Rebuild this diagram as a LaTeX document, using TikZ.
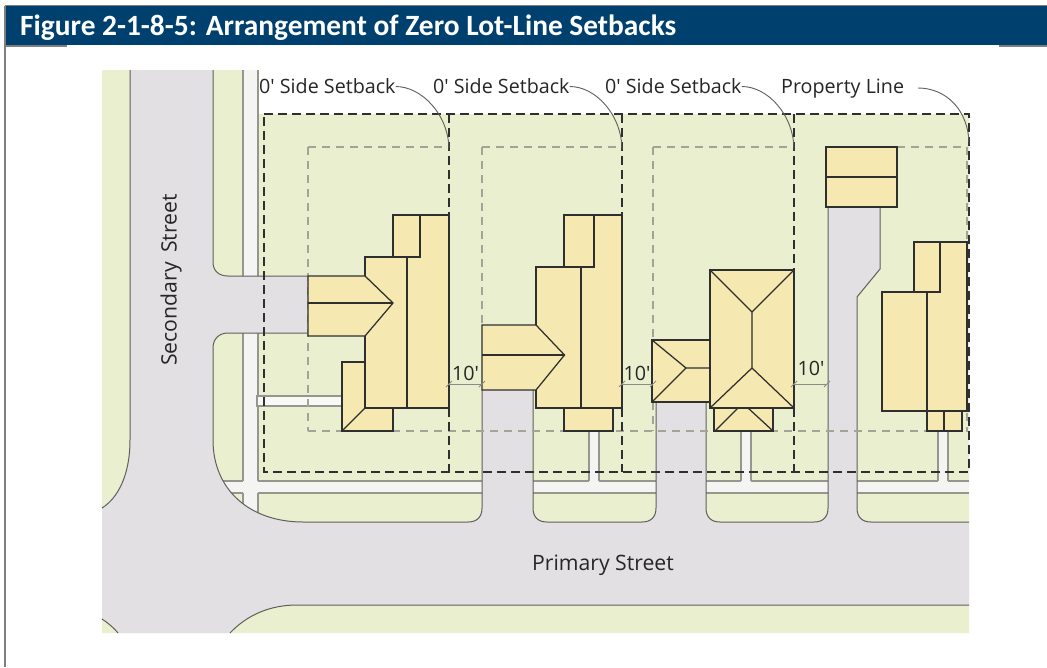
\documentclass[tikz,border=0pt]{standalone}
\usepackage{fontspec}
\usetikzlibrary{calc}
\setmainfont{Open Sans}
\newfontfamily\titlefont[BoldFont=Carlito Bold]{Carlito}
\definecolor{lotgreen}{HTML}{E9EFCF}
\definecolor{roadgrey}{HTML}{E3E0E3}
\definecolor{walkgrey}{HTML}{F4F4F2}
\definecolor{roofyellow}{HTML}{F5E9B1}
\definecolor{headerblue}{HTML}{00406F}
\definecolor{framegrey}{HTML}{7F7F7F}
\definecolor{edgegrey}{HTML}{5F5F5C}
\definecolor{walkedge}{HTML}{96968F}
\definecolor{inkdark}{HTML}{2F2F2F}
\definecolor{setbackgrey}{HTML}{A3A397}
\definecolor{dimgrey}{HTML}{8C8C86}
\tikzset{
  x=1pt,y=-1pt,
  roadedge/.style={draw=edgegrey,line width=1pt},
  walkline/.style={draw=walkedge,line width=1.2pt},
  propline/.style={draw=inkdark,line width=1.5pt,dash pattern=on 9pt off 5pt},
  setback/.style={draw=setbackgrey,line width=1.1pt,dash pattern=on 8pt off 6pt},
  roof/.style={draw=inkdark,line width=1.25pt,fill=roofyellow,line join=miter},
  ridge/.style={draw=inkdark,line width=1.25pt},
  lbl/.style={inner sep=0pt,font=\fontsize{19.7}{21}\selectfont,text=black!85},
  biglbl/.style={inner sep=0pt,font=\fontsize{21.2}{23}\selectfont,text=black!85},
  callout/.style={draw=edgegrey,line width=.9pt},
  dimline/.style={draw=dimgrey,line width=.8pt},
}
\begin{document}
\begin{tikzpicture}
\useasboundingbox (0,0) rectangle (1047,667);
% frame and header
\fill[white] (0,0) rectangle (1047,667);
\draw[framegrey,line width=2pt] (5,5.5) -- (5,667);
\draw[framegrey,line width=1.5pt] (5,46) -- (67,46);
\draw[framegrey,line width=1.5pt] (999,46) -- (1047,46);
\fill[framegrey] (5,5) rectangle (1047,6);
\fill[headerblue] (6,6) rectangle (1047,45);
\node[anchor=west,inner sep=0pt,text=white,font=\titlefont\bfseries\fontsize{29.4}{32}\selectfont] (title) at (20,27.5) {Figure 2-1-8-5: Arrangement of Zero Lot-Line Setbacks};
% ground
\fill[lotgreen] (102,70) -- (258,70) -- (258,114) -- (969,114) -- (969,633) -- (102,633) -- cycle;
% sidewalks
\fill[walkgrey] (243,70) rectangle (258,515);
\fill[walkgrey] (215,481) rectangle (969,493);
\draw[walkline] (243,70) -- (243,481) (243,493) -- (243,510);
\draw[walkline] (258,70) -- (258,481) (258,493) -- (258,520);
\draw[walkline] (215,481) -- (243,481) (258,481) -- (969,481);
\draw[walkline] (215,493) -- (243,493) (258,493) -- (969,493);
% road
\fill[roadgrey] (130,70) -- (213,70) -- (213,262) .. controls (213,271) and (219,276) .. (228,276)
 -- (308,276) -- (308,333) -- (228,333) .. controls (219,333) and (213,339) .. (213,348)
 -- (213,440) .. controls (213,490) and (250,522) .. (303,522)
 -- (468,522) .. controls (477,522) and (482,517) .. (482,508) -- (482,390) -- (533,390)
 -- (533,508) .. controls (533,517) and (538,522) .. (547,522)
 -- (642,522) .. controls (651,522) and (656,517) .. (656,508) -- (656,402) -- (706,402)
 -- (706,508) .. controls (706,517) and (711,522) .. (720,522)
 -- (814,522) .. controls (823,522) and (828,517) .. (828,508) -- (828,207) -- (880,207) -- (880,269) -- (857,297)
 -- (857,508) .. controls (857,517) and (862,522) .. (871,522)
 -- (969,522) -- (969,605) -- (297,605) .. controls (270,605) and (247,615) .. (230,633)
 -- (118,633) .. controls (113,627) and (108,623) .. (102,619) -- (102,508) .. controls (118,498) and (130,475) .. (130,440) -- cycle;
% road edges
\draw[roadedge] (130,70) -- (130,440) .. controls (130,475) and (118,498) .. (102,508);
\draw[roadedge] (118,633) .. controls (113,627) and (108,623) .. (102,619);
\draw[roadedge] (969,605) -- (297,605) .. controls (270,605) and (247,615) .. (230,633);
\draw[roadedge] (213,70) -- (213,262) .. controls (213,271) and (219,276) .. (228,276) -- (308,276);
\draw[roadedge] (308,333) -- (228,333) .. controls (219,333) and (213,339) .. (213,348)
 -- (213,440) .. controls (213,490) and (250,522) .. (303,522)
 -- (468,522) .. controls (477,522) and (482,517) .. (482,508) -- (482,390);
\draw[roadedge] (533,390) -- (533,508) .. controls (533,517) and (538,522) .. (547,522)
 -- (642,522) .. controls (651,522) and (656,517) .. (656,508) -- (656,402);
\draw[roadedge] (706,402) -- (706,508) .. controls (706,517) and (711,522) .. (720,522)
 -- (814,522) .. controls (823,522) and (828,517) .. (828,508) -- (828,207);
\draw[roadedge] (880,207) -- (880,269) -- (857,297) -- (857,508) .. controls (857,517) and (862,522) .. (871,522) -- (969,522);
% front walks
\fill[walkgrey] (589,431) rectangle (599,482);
\draw[walkline] (589,431) -- (589,481) (599,431) -- (599,481);
\fill[walkgrey] (741,431) rectangle (751,482);
\draw[walkline] (741,431) -- (741,481) (751,431) -- (751,481);
\fill[walkgrey] (938,431) rectangle (948,482);
\draw[walkline] (938,431) -- (938,481) (948,431) -- (948,481);
\draw[walkline,fill=walkgrey!60!white] (257,396) rectangle (342,406);
% inner setback lines
\draw[setback] (308,147) -- (449,147) (482,147) -- (622,147) (653,147) -- (794,147) (897,147) -- (967,147);
\draw[setback] (308,147) -- (308,431) (482,147) -- (482,325) (653,147) -- (653,340) (653,402) -- (653,431) (967,147) -- (967,431);
\draw[setback] (308,431) -- (968,431);
% property lines
\draw[propline] (264,114) -- (969,114) -- (969,472) -- (264,472) -- cycle;
\draw[propline] (449,114) -- (449,472) (622,114) -- (622,472) (794,114) -- (794,472);
% house 1
\draw[roof] (393,257) -- (393,215) -- (449,215) -- (449,408) -- (365,408) -- (365,257) -- cycle;
\draw[ridge] (420,215) -- (420,257) -- (365,257) (407,257) -- (407,408);
\draw[roof] (308,276) -- (365,276) -- (393,303) -- (365,336) -- (308,336) -- cycle;
\draw[ridge] (308,303) -- (393,303);
\draw[roof] (342,362) -- (365,362) -- (365,408) -- (393,408) -- (393,431) -- (342,431) -- cycle;
\draw[ridge] (342,431) -- (365,408);
% house 2
\draw[roof] (564,267) -- (564,215) -- (622,215) -- (622,408) -- (536,408) -- (536,267) -- cycle;
\draw[ridge] (594,215) -- (594,267) -- (536,267) (581,267) -- (581,408);
\draw[roof] (482,325) -- (536,325) -- (564.5,355) -- (536,390) -- (482,390) -- cycle;
\draw[ridge] (482,355) -- (564.5,355);
\draw[roof] (564,408) rectangle (613,431);
% house 3
\draw[roof] (652,340) rectangle (710,402);
\draw[ridge] (652,340) -- (686,368) -- (652,402) (686,368) -- (710,368);
\draw[roof] (714,408) rectangle (773,431);
\draw[ridge] (715,431) -- (738,408) (773,431) -- (748,408);
\draw[roof] (710,270) rectangle (794,408);
\draw[ridge] (710,270) -- (752,312) -- (794,270) (752,312) -- (752,368) (710,408) -- (752,368) -- (794,408);
% house 4
\draw[roof] (826,147) rectangle (897,207);
\draw[ridge] (826,177) -- (897,177);
\draw[roof] (914,292) -- (914,242) -- (967,242) -- (967,411) -- (882,411) -- (882,292) -- cycle;
\draw[ridge] (940,242) -- (940,292) -- (882,292) (927,292) -- (927,411);
\draw[roof] (927,411) rectangle (962,431);
\draw[ridge] (944,411) -- (944,431);
% labels
\node[lbl,anchor=west] (sb1) at (259,86.5) {0′ Side Setback};
\node[lbl,anchor=west] (sb2) at (433,86.5) {0′ Side Setback};
\node[lbl,anchor=west] (sb3) at (605,86.5) {0′ Side Setback};
\node[lbl,anchor=west] (pl) at (781,89) {Property Line};
\coordinate (pl-start) at (918,88);
\coordinate (c1) at (449,150);
\coordinate (c2) at (622,150);
\coordinate (c3) at (794,150);
\coordinate (c4) at (969,145);
\draw[callout] (sb1.east) .. controls +(26,0) and +(0,-35) .. (c1);
\draw[callout] (sb2.east) .. controls +(26,0) and +(0,-35) .. (c2);
\draw[callout] (sb3.east) .. controls +(26,0) and +(0,-35) .. (c3);
\draw[callout] (pl-start) .. controls +(28,0) and +(0,-35) .. (c4);
\node[biglbl,rotate=90] (sec) at (171,280) {Secondary\hspace{4pt} Street};
\node[biglbl] (prim) at (603,565) {Primary Street};
% dimensions
\foreach \n/\a/\b in {d1/449/482,d2/622/653,d3/794/827}{
  \coordinate (\n a) at (\a,384);
  \coordinate (\n b) at (\b,384);
  \draw[dimline] (\n a) -- (\n b);
  \draw[dimline] ($(\n a)+(-3,3)$) -- ($(\n a)+(3,-3)$);
  \draw[dimline] ($(\n b)+(-3,3)$) -- ($(\n b)+(3,-3)$);
}
\node[lbl] (t1) at (465.5,373) {10′};
\node[lbl] (t2) at (637,373) {10′};
\node[lbl] (t3) at (811,368) {10′};
\end{tikzpicture}
\end{document}
